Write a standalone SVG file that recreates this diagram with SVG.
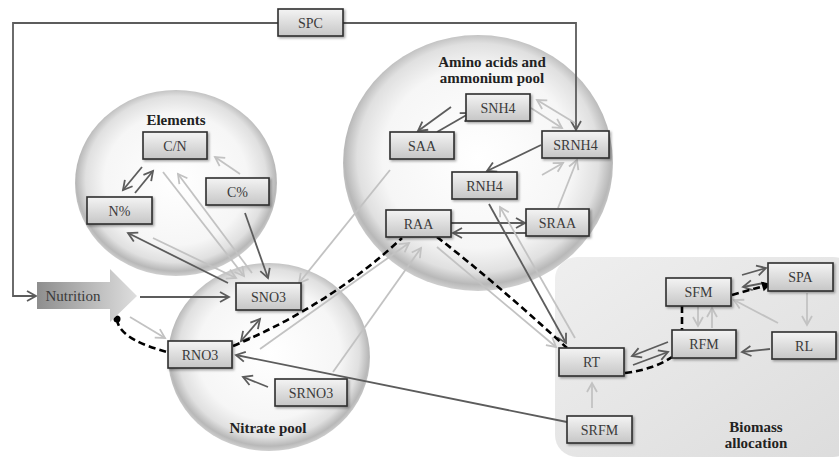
<svg xmlns="http://www.w3.org/2000/svg" width="839" height="459" viewBox="0 0 839 459">
<defs>
<style>
.box{fill:url(#boxG);stroke:#2e2e2e;stroke-width:1.6;filter:url(#sh)}
.bt{font-family:"Liberation Serif",serif;font-size:14px;fill:#3a3a3a;text-anchor:middle}
.lab{font-family:"Liberation Serif",serif;font-size:15px;font-weight:bold;fill:#222;text-anchor:middle}
.d{fill:none;stroke:#5c5c5c;stroke-width:1.8;marker-end:url(#md)}
.l{fill:none;stroke:#c2c2c2;stroke-width:1.8;marker-end:url(#ml)}
.k{fill:none;stroke:#000;stroke-width:2.6;stroke-dasharray:7 4}
.pool{fill:url(#poolG)}
</style>
<linearGradient id="boxG" x1="0" y1="0" x2="0" y2="1">
<stop offset="0" stop-color="#f4f4f4"/><stop offset="1" stop-color="#c6c6c6"/>
</linearGradient>
<linearGradient id="nutG" x1="0" y1="0" x2="1" y2="0">
<stop offset="0" stop-color="#8e8e8e"/><stop offset="1" stop-color="#dedede"/>
</linearGradient>
<linearGradient id="bioG" x1="0" y1="0" x2="1" y2="1">
<stop offset="0" stop-color="#efefef"/><stop offset="1" stop-color="#dcdcdc"/>
</linearGradient>
<radialGradient id="poolG" cx="50%" cy="48%" r="52%">
<stop offset="0" stop-color="#ffffff"/><stop offset="0.68" stop-color="#f6f6f6"/>
<stop offset="0.86" stop-color="#e0e0e0"/><stop offset="0.95" stop-color="#b8b8b8"/>
<stop offset="1" stop-color="#d0d0d0"/>
</radialGradient>
<filter id="sh" x="-10%" y="-10%" width="130%" height="140%">
<feDropShadow dx="1.5" dy="1.5" stdDeviation="1" flood-color="#000" flood-opacity="0.35"/>
</filter>
<marker id="md" markerUnits="userSpaceOnUse" markerWidth="14" markerHeight="14" viewBox="-10 -7 14 14" refX="0" refY="0" orient="auto-start-reverse">
<path d="M-9,-5 L0,0 L-9,5" fill="none" stroke="#5c5c5c" stroke-width="1.8"/>
</marker>
<marker id="ml" markerUnits="userSpaceOnUse" markerWidth="14" markerHeight="14" viewBox="-10 -7 14 14" refX="0" refY="0" orient="auto">
<path d="M-9,-5 L0,0 L-9,5" fill="none" stroke="#c2c2c2" stroke-width="1.8"/>
</marker>
<marker id="mk" markerUnits="userSpaceOnUse" markerWidth="14" markerHeight="14" viewBox="-10 -7 14 14" refX="0" refY="0" orient="auto">
<path d="M-9,-5 L0,0 L-9,5 Z" fill="#000"/>
</marker>
</defs>
<rect width="839" height="459" fill="#fff"/>

<g id="pools">
<ellipse id="elements-pool" class="pool" cx="176" cy="183" rx="101" ry="93"/>
<ellipse id="amino-pool" class="pool" cx="478" cy="163" rx="135" ry="128"/>
<ellipse id="nitrate-pool" class="pool" cx="269" cy="357" rx="101" ry="94"/>
<rect id="biomass-area" x="555" y="257" width="300" height="200" rx="22" fill="url(#bioG)"/>
<text class="lab" x="176" y="125">Elements</text>
<text class="lab" x="492" y="67">Amino acids and</text>
<text class="lab" x="492" y="83">ammonium pool</text>
<text class="lab" x="268" y="433">Nitrate pool</text>
<text class="lab" x="756" y="432">Biomass</text>
<text class="lab" x="756" y="448">allocation</text>
</g>

<g id="connectors">
<path class="d" d="M278,23 H13 V296 H36"/>
<path class="d" d="M343,23 H576 V130"/>
<path class="d" d="M140,297 L229,297"/>
<path class="d" d="M451,107 L418,131"/>
<path class="d" d="M437,132 L470,113"/>
<path class="d" d="M541,145 L487,171"/>
<path class="d" d="M451,223 L525,223"/>
<path class="d" d="M526,233 L453,233"/>
<path class="d" d="M489,204 L566,343"/>
<path class="d" d="M245,213 L268,278"/>
<path class="d" d="M142,167 L123,190"/>
<path class="d" d="M135,193 L153,171"/>
<path class="d" d="M228,283 L128,233"/>
<path class="d" d="M241,341 L260,319" style="marker-start:url(#md)"/>
<path class="d" d="M268,387 L243,377"/>
<path class="d" d="M567,422 L236,355"/>
<path class="d" d="M668,342 L632,356"/>
<path class="d" d="M633,365 L668,352"/>
<path class="d" d="M770,349 L742,352"/>
<path class="d" d="M742,275 L766,268"/>
<path class="d" d="M764,283 L743,287"/>

<path class="l" d="M130,317 L165,338"/>
<path class="l" d="M390,170 L299,283"/>
<path class="l" d="M260,349 L409,243"/>
<path class="l" d="M333,372 L421,248"/>
<path class="l" d="M437,247 L556,347"/>
<path class="l" d="M575,338 L500,207"/>
<path class="l" d="M531,108 L562,128"/>
<path class="l" d="M575,123 L537,100"/>
<path class="l" d="M542,175 L563,163"/>
<path class="l" d="M558,208 L577,160"/>
<path class="l" d="M240,174 L215,157"/>
<path class="l" d="M163,172 L244,276"/>
<path class="l" d="M252,273 L178,174"/>
<path class="l" d="M153,238 L236,278"/>
<path class="l" d="M698,307 L698,326"/>
<path class="l" d="M712,328 L712,308"/>
<path class="l" d="M778,323 L734,300"/>
<path class="l" d="M807,293 L807,325"/>
<path class="l" d="M592,408 L592,383"/>

<circle cx="117" cy="319" r="3.5" fill="#000"/>
<path class="k" d="M117,319 C118,336 145,346 167,352"/>
<path class="k" d="M233,346 Q330,305 402,238"/>
<path class="k" d="M437,237 Q495,282 567,348"/>
<path class="k" d="M625,373 Q655,369 672,357"/>
<path class="k" d="M682,306 L682,330"/>
<path class="k" d="M732,295 L771,284" style="marker-end:url(#mk)"/>
</g>

<g id="n-nutrition"><path d="M37,282 H110 V269 L137,296 L110,322 V309 H37 Z" fill="url(#nutG)"/><text class="bt" x="73" y="301" style="font-size:15px">Nutrition</text></g>
<g id="n-spc"><rect class="box" x="278" y="9" width="65" height="27"/><text class="bt" x="310.5" y="27.5">SPC</text></g>
<g id="n-cn"><rect class="box" x="143" y="132" width="64" height="27"/><text class="bt" x="175" y="150.5">C/N</text></g>
<g id="n-cpct"><rect class="box" x="206" y="178" width="63" height="27"/><text class="bt" x="237.5" y="196.5">C%</text></g>
<g id="n-npct"><rect class="box" x="87" y="197" width="65" height="27"/><text class="bt" x="119.5" y="215.5">N%</text></g>
<g id="n-saa"><rect class="box" x="390" y="132" width="64" height="27"/><text class="bt" x="422" y="150.5">SAA</text></g>
<g id="n-snh4"><rect class="box" x="466" y="94" width="64" height="27"/><text class="bt" x="498" y="112.5">SNH4</text></g>
<g id="n-srnh4"><rect class="box" x="542" y="131" width="67" height="27"/><text class="bt" x="575.5" y="149.5">SRNH4</text></g>
<g id="n-rnh4"><rect class="box" x="452" y="172" width="65" height="27"/><text class="bt" x="484.5" y="190.5">RNH4</text></g>
<g id="n-raa"><rect class="box" x="386" y="210" width="65" height="27"/><text class="bt" x="418.5" y="228.5">RAA</text></g>
<g id="n-sraa"><rect class="box" x="526" y="209" width="63" height="27"/><text class="bt" x="557.5" y="227.5">SRAA</text></g>
<g id="n-sno3"><rect class="box" x="236" y="283" width="65" height="27"/><text class="bt" x="268.5" y="301.5">SNO3</text></g>
<g id="n-rno3"><rect class="box" x="168" y="341" width="64" height="27"/><text class="bt" x="200" y="359.5">RNO3</text></g>
<g id="n-srno3"><rect class="box" x="275" y="379" width="72" height="27"/><text class="bt" x="311" y="397.5">SRNO3</text></g>
<g id="n-rt"><rect class="box" x="559" y="348" width="65" height="28"/><text class="bt" x="591.5" y="367">RT</text></g>
<g id="n-rfm"><rect class="box" x="672" y="330" width="64" height="28"/><text class="bt" x="704" y="349">RFM</text></g>
<g id="n-sfm"><rect class="box" x="666" y="278" width="65" height="28"/><text class="bt" x="698.5" y="297">SFM</text></g>
<g id="n-spa"><rect class="box" x="768" y="263" width="65" height="28"/><text class="bt" x="800.5" y="282">SPA</text></g>
<g id="n-rl"><rect class="box" x="772" y="332" width="64" height="27"/><text class="bt" x="804" y="350.5">RL</text></g>
<g id="n-srfm"><rect class="box" x="567" y="416" width="65" height="27"/><text class="bt" x="599.5" y="434.5">SRFM</text></g>
</svg>
